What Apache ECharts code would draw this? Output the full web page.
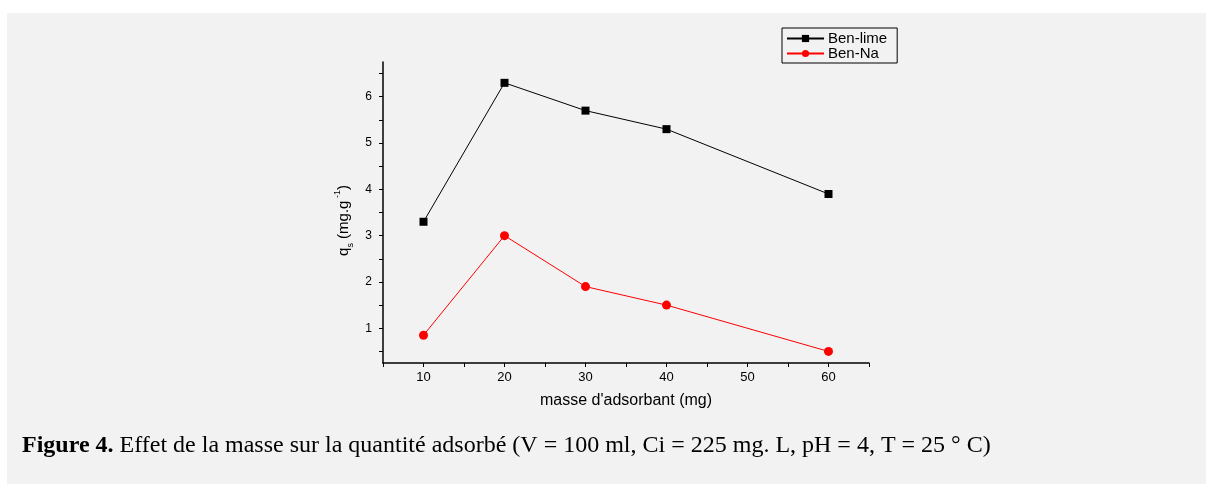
<!DOCTYPE html>
<html>
<head>
<meta charset="utf-8">
<script src="https://cdn.jsdelivr.net/npm/echarts@6/dist/echarts.min.js"></script>
<style>
  html, body { margin: 0; padding: 0; background: #fff; }
  #chart { width: 1206px; height: 484px; }
</style>
</head>
<body>
<div id="chart"></div>
<script>
const masses = [10, 20, 30, 40, 60];
const benLime = [3.3, 6.3, 5.7, 5.3, 3.9];
const benNa = [0.85, 3.0, 1.9, 1.5, 0.5];
const xLabels = [10, 20, 30, 40, 50, 60];
const yLabels = [1, 2, 3, 4, 5, 6];
const yTicks = [0.5, 1, 1.5, 2, 2.5, 3, 3.5, 4, 4.5, 5, 5.5, 6, 6.5];

const chart = echarts.init(document.getElementById("chart"));

const axisFont = { color: "#000", fontFamily: "Liberation Sans, Arial", fontSize: 12 };

const option = {
  backgroundColor: "#fff",
  animation: false,
  graphic: [
    {
      type: "rect",
      shape: { x: 7, y: 13, width: 1199, height: 471 },
      style: { fill: "#f2f2f2" },
      z: -10,
    },
    {
      type: "text",
      left: 22,
      top: 434,
      style: {
        text: "{b|Figure 4.} Effet de la masse sur la quantité adsorbé (V = 100 ml, Ci = 225 mg. L, pH = 4, T = 25 ° C)",
        fontFamily: "Liberation Serif, Times New Roman",
        fontSize: 24,
        fill: "#000",
        rich: {
          b: { fontFamily: "Liberation Serif, Times New Roman", fontSize: 24, fontWeight: "bold", fill: "#000" },
        },
      },
    },
  ],
  legend: {
    left: 782,
    top: 28,
    orient: "vertical",
    backgroundColor: "#f2f2f2",
    borderColor: "#000",
    borderWidth: 1,
    borderRadius: 0,
    padding: [3, 10, 2, 4],
    itemWidth: 37,
    itemHeight: 9,
    itemGap: 0,
    textStyle: { color: "#000", fontFamily: "Liberation Sans, Arial", fontSize: 15, padding: [0, 0, 0, -1] },
    data: ["Ben-lime", "Ben-Na"],
  },
  grid: { left: 383, right: 337, top: 62, bottom: 121 },
  xAxis: {
    type: "value",
    min: 5,
    max: 65,
    interval: 5,
    name: "masse d'adsorbant (mg)",
    nameLocation: "middle",
    nameGap: 30,
    nameTextStyle: { color: "#000", fontFamily: "Liberation Sans, Arial", fontSize: 16 },
    axisLine: { lineStyle: { color: "#000", width: 1.5 } },
    axisTick: { inside: false, length: 4, lineStyle: { color: "#000", width: 1 } },
    axisLabel: {
      ...axisFont,
      fontSize: 13,
      margin: 8,
      formatter: (v) => (xLabels.includes(v) ? String(v) : ""),
    },
    splitLine: { show: false },
  },
  yAxis: {
    type: "value",
    min: 0.25,
    max: 6.75,
    name: "{n|q}{s|s}{n| (mg.g}{p| -1}{n|)}",
    nameLocation: "middle",
    nameGap: 28,
    nameTextStyle: {
      color: "#000",
      fontFamily: "Liberation Sans, Arial",
      fontSize: 15,
      padding: [0, 16, 0, 0],
      rich: {
        n: { fontSize: 15, fontFamily: "Liberation Sans, Arial", color: "#000", lineHeight: 22, verticalAlign: "middle" },
        s: { fontSize: 9, fontFamily: "Liberation Sans, Arial", color: "#000", lineHeight: 22, verticalAlign: "bottom" },
        p: { fontSize: 9, fontFamily: "Liberation Sans, Arial", color: "#000", lineHeight: 22, verticalAlign: "top" },
      },
    },
    axisLine: { show: true, lineStyle: { color: "#000", width: 1.5 } },
    axisTick: { show: true, inside: false, length: 4, customValues: yTicks, lineStyle: { color: "#000", width: 1 } },
    axisLabel: { ...axisFont, margin: 11, customValues: yLabels },
    splitLine: { show: false },
  },
  series: [
    {
      name: "Ben-lime",
      type: "line",
      data: masses.map((m, i) => [m, benLime[i]]),
      symbol: "rect",
      symbolSize: 8,
      itemStyle: { color: "#000" },
      lineStyle: { color: "#000", width: 1 },
    },
    {
      name: "Ben-Na",
      type: "line",
      data: masses.map((m, i) => [m, benNa[i]]),
      symbol: "circle",
      symbolSize: 9,
      itemStyle: { color: "#ff0000" },
      lineStyle: { color: "#ff0000", width: 1 },
    },
  ],
};

chart.setOption(option);
</script>
</body>
</html>
